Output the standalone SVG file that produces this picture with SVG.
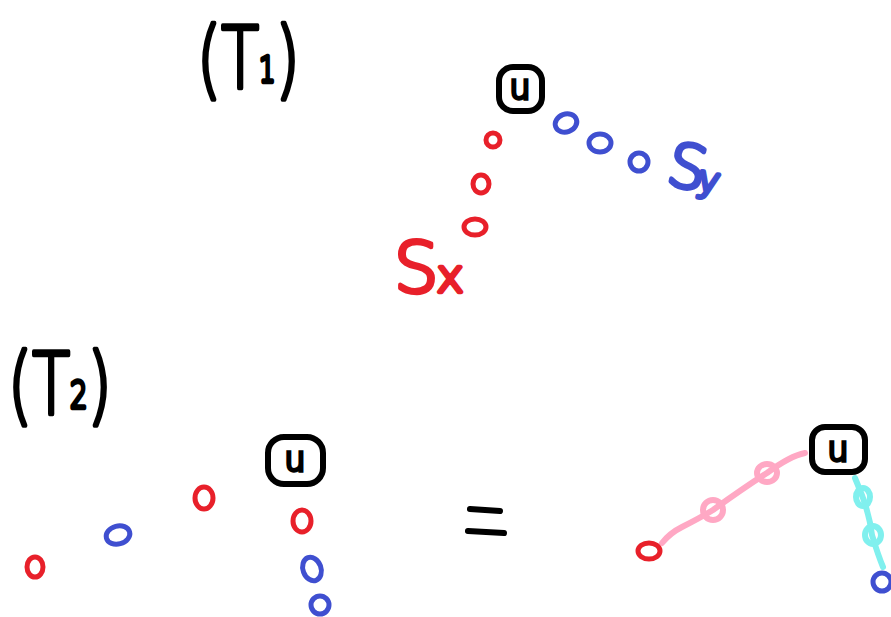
<svg xmlns="http://www.w3.org/2000/svg" width="891" height="617" viewBox="0 0 891 617">
<style>
.lbl{font-family:"DejaVu Sans","Liberation Sans",sans-serif;font-weight:200;fill:#000;stroke:#000;stroke-width:4.5;stroke-linejoin:round}
.box{fill:none;stroke:#000;stroke-width:6;stroke-linejoin:round}
.ut{font-family:"DejaVu Sans","Liberation Sans",sans-serif;font-weight:200;font-size:33px;fill:#000;stroke:#000;stroke-width:3.5;text-anchor:middle}
.r{fill:none;stroke:#e8202a;stroke-width:5}
.b{fill:none;stroke:#3f4fd0;stroke-width:5}
.pk{fill:none;stroke:#ffa8c4;stroke-width:6}
.cy{fill:none;stroke:#80f0ee;stroke-width:6}
.redt{font-family:"DejaVu Sans","Liberation Sans",sans-serif;font-weight:200;fill:#e8202a;stroke:#e8202a;stroke-width:4.5;stroke-linejoin:round}
.bluet{font-family:"DejaVu Sans","Liberation Sans",sans-serif;font-weight:200;fill:#3f4fd0;stroke:#3f4fd0;stroke-width:4.5;stroke-linejoin:round}
</style>
<rect width="891" height="617" fill="#fff"/>

<g id="title-T1">
<text class="lbl" x="0" y="88" font-size="86" transform="translate(197,0) scale(0.72,1)">(T<tspan font-size="36" dy="-6">1</tspan><tspan dy="6">)</tspan></text>
</g>

<g id="t1-u">
<rect class="box" x="499" y="67" width="43" height="44" rx="14"/>
<text class="ut" x="520" y="99">u</text>
</g>

<g id="t1-red">
<ellipse class="r" cx="493" cy="140" rx="7" ry="7"/>
<ellipse class="r" cx="481" cy="184" rx="8" ry="9"/>
<ellipse class="r" cx="475" cy="227" rx="11" ry="8"/>
</g>

<g id="t1-Sx">
<text class="redt" x="394" y="292" font-size="70">S<tspan font-size="46" dx="-2">x</tspan></text>
</g>

<g id="t1-blue">
<ellipse class="b" cx="566" cy="123" rx="11" ry="9" transform="rotate(-20 566 123)"/>
<ellipse class="b" cx="600" cy="143" rx="11" ry="9"/>
<ellipse class="b" cx="639" cy="162" rx="9" ry="9"/>
</g>

<g id="t1-Sy">
<text class="bluet" x="668" y="188" font-size="60" transform="rotate(12 688 170)">S<tspan font-size="36" dx="-6">y</tspan></text>
</g>

<g id="title-T2">
<text class="lbl" x="0" y="414" font-size="86" transform="translate(8,0) scale(0.72,1)">(T<tspan font-size="38" dy="-6">2</tspan><tspan dy="6">)</tspan></text>
</g>

<g id="t2-u">
<rect class="box" x="268" y="437" width="55" height="47" rx="16"/>
<text class="ut" x="295" y="471">u</text>
</g>

<g id="t2-red">
<ellipse class="r" cx="204" cy="498" rx="9" ry="11"/>
<ellipse class="r" cx="302" cy="521" rx="9" ry="11"/>
<ellipse class="r" cx="35" cy="567" rx="8" ry="10"/>
</g>

<g id="t2-blue">
<ellipse class="b" cx="118" cy="535" rx="12" ry="9" transform="rotate(-15 118 535)"/>
<ellipse class="b" cx="312" cy="569" rx="9" ry="12" transform="rotate(-20 312 569)"/>
<ellipse class="b" cx="320" cy="605" rx="9" ry="9"/>
</g>

<g id="equals">
<path d="M470 509 L500 511 M468 531 L504 533" stroke="#000" stroke-width="6" stroke-linecap="round" fill="none"/>
</g>

<g id="connectors">
<path class="pk" d="M662 543 Q670 533 682 527 Q700 518 713 510 Q745 487 767 473 Q790 456 805 453" stroke-linecap="round"/>
<path class="cy" d="M855 478 Q860 490 863 498 Q870 518 872 535 Q878 555 883 567" stroke-linecap="round"/>
</g>

<g id="t3-mid">
<ellipse class="pk" cx="713" cy="510" rx="10" ry="10"/>
<ellipse class="pk" cx="767" cy="473" rx="10" ry="9"/>
<ellipse class="cy" cx="863" cy="497" rx="7" ry="9"/>
<ellipse class="cy" cx="873" cy="535" rx="8" ry="9"/>
</g>

<g id="t3-u">
<rect class="box" x="812" y="427" width="53" height="45" rx="13"/>
<text class="ut" x="838" y="461">u</text>
</g>

<g id="t3-red">
<ellipse class="r" cx="649" cy="551" rx="11" ry="8"/>
</g>

<g id="t3-blue">
<ellipse class="b" cx="882" cy="582" rx="9" ry="9"/>
</g>
</svg>
